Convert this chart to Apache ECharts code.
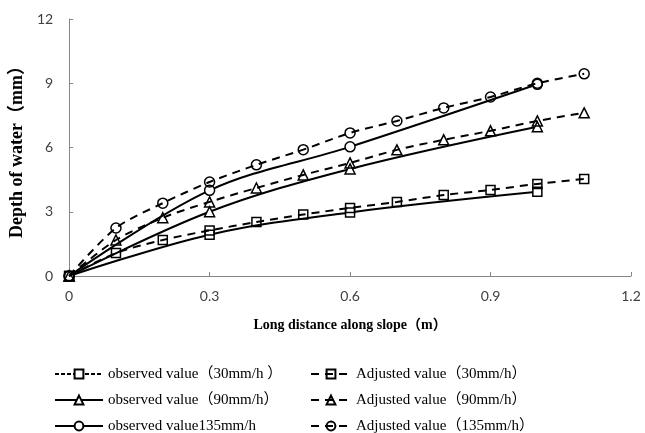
<!DOCTYPE html>
<html>
<head>
<meta charset="utf-8">
<script src="https://cdn.jsdelivr.net/npm/echarts@6/dist/echarts.min.js"></script>
<style>
  html, body { margin: 0; padding: 0; background: #fff; }
  #chart { width: 645px; height: 433px; }
</style>
</head>
<body>
<div id="chart"></div>
<script>
// Distances along the slope (m)
const distObserved = [0, 0.3, 0.6, 1.0];
const distAdjusted = [0, 0.1, 0.2, 0.3, 0.4, 0.5, 0.6, 0.7, 0.8, 0.9, 1.0, 1.1];

// Observed water depth (mm)
const obs30 = [0, 1.93, 2.97, 3.93];
const obs90 = [0, 3.0, 5.0, 6.97];
const obs135 = [0, 4.0, 6.03, 8.95];

// Adjusted water depth (mm)
const adj30 = [0, 1.07, 1.68, 2.13, 2.52, 2.87, 3.18, 3.46, 3.78, 4.02, 4.3, 4.53];
const adj90 = [0, 1.68, 2.72, 3.46, 4.11, 4.72, 5.28, 5.89, 6.36, 6.78, 7.24, 7.62];
const adj135 = [0, 2.24, 3.4, 4.39, 5.19, 5.9, 6.68, 7.24, 7.85, 8.36, 9.0, 9.44];

const observedNames = ['observed value（30mm/h ）', 'observed value（90mm/h）', 'observed value135mm/h'];
const adjustedNames = ['Adjusted value（30mm/h）', 'Adjusted value（90mm/h）', 'Adjusted value（135mm/h）'];

const pairs = (xs, ys) => xs.map((x, i) => [x, ys[i]]);

const serifFont = '"Liberation Serif", "Times New Roman", "Noto Sans CJK SC", serif';
const labelFont = 'Lato, "Liberation Sans", sans-serif';

function observedSeries(name, xs, ys, symbol, size, dash) {
  return {
    name, type: 'line', data: pairs(xs, ys),
    smooth: 0.35, symbol, symbolSize: size,
    lineStyle: { color: '#000', width: 2, type: dash || 'solid' },
    itemStyle: { color: '#fff', borderColor: '#000', borderWidth: 1.5 },
    z: 3
  };
}
function adjustedSeries(name, xs, ys, symbol, size) {
  return {
    name, type: 'line', data: pairs(xs, ys),
    smooth: 0.3, symbol, symbolSize: size,
    lineStyle: { color: '#000', width: 2, type: [8, 6] },
    itemStyle: { color: 'rgba(255,255,255,0)', borderColor: '#000', borderWidth: 1.5 },
    z: 4
  };
}

const legendText = { fontFamily: serifFont, fontSize: 15, color: '#000', lineHeight: 16 };

const chart = echarts.init(document.getElementById('chart'), null, { renderer: 'canvas' });
chart.setOption({
  animation: false,
  backgroundColor: '#fff',
  grid: { left: 67, right: 14, top: 19, bottom: 157 },
  xAxis: {
    type: 'value', min: 0, max: 1.2, interval: 0.3,
    name: 'Long distance along slope（m）',
    nameLocation: 'middle', nameGap: 42,
    nameTextStyle: { fontFamily: serifFont, fontWeight: 'bold', fontSize: 14, color: '#000' },
    axisLine: { lineStyle: { color: '#868686', width: 1 } },
    axisTick: { show: true, inside: true, length: 4, lineStyle: { color: '#868686' } },
    axisLabel: { fontFamily: labelFont, fontSize: 14, color: '#404040', margin: 13 },
    splitLine: { show: false }
  },
  yAxis: {
    type: 'value', min: 0, max: 12, interval: 3,
    name: 'Depth of water（mm）',
    nameLocation: 'middle', nameGap: 41,
    nameTextStyle: { fontFamily: serifFont, fontWeight: 'bold', fontSize: 18, color: '#000' },
    axisLine: { show: true, lineStyle: { color: '#868686', width: 1 } },
    axisTick: { show: true, inside: true, length: 4, lineStyle: { color: '#868686' } },
    axisLabel: { fontFamily: labelFont, fontSize: 14, color: '#404040', margin: 16 },
    splitLine: { show: false }
  },
  legend: [
    {
      orient: 'vertical', left: 54, top: 366, width: 250, height: 80,
      padding: 0,
      itemWidth: 48, itemHeight: 11, itemGap: 10,
      textStyle: legendText,
      data: [
        { name: observedNames[0], lineStyle: { type: [4, 2] } },
        observedNames[1], observedNames[2]
      ]
    },
    {
      orient: 'vertical', left: 310, top: 366, width: 330, height: 80,
      padding: 0,
      itemWidth: 40, itemHeight: 11, itemGap: 10,
      textStyle: legendText,
      data: adjustedNames
    }
  ],
  series: [
    observedSeries(observedNames[0], distObserved, obs30, 'rect', 9, 'solid'),
    observedSeries(observedNames[1], distObserved, obs90, 'triangle', 10),
    observedSeries(observedNames[2], distObserved, obs135, 'circle', 10),
    adjustedSeries(adjustedNames[0], distAdjusted, adj30, 'rect', 9),
    adjustedSeries(adjustedNames[1], distAdjusted, adj90, 'triangle', 10),
    adjustedSeries(adjustedNames[2], distAdjusted, adj135, 'circle', 10)
  ]
});
</script>
</body>
</html>
